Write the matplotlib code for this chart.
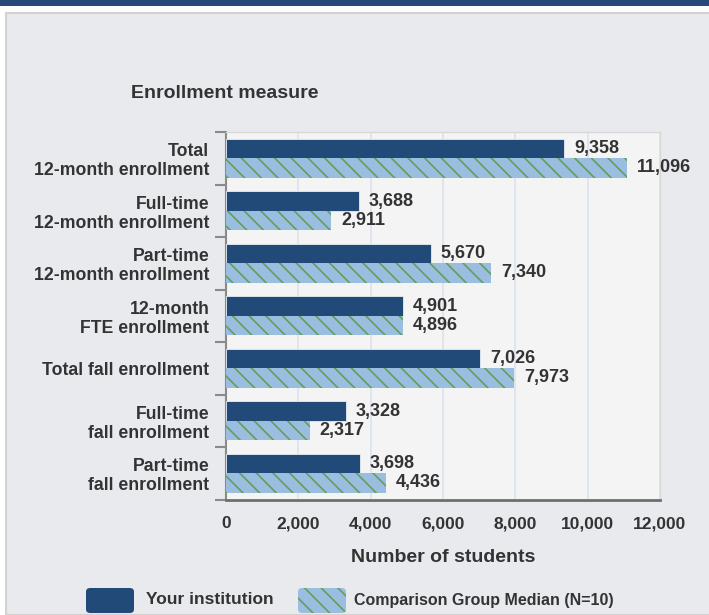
import matplotlib.pyplot as plt
import numpy as np
from matplotlib.patches import Rectangle, FancyBboxPatch

categories = [
    "Total\n12-month enrollment",
    "Full-time\n12-month enrollment",
    "Part-time\n12-month enrollment",
    "12-month\nFTE enrollment",
    "Total fall enrollment",
    "Full-time\nfall enrollment",
    "Part-time\nfall enrollment",
]
institution = [9358, 3688, 5670, 4901, 7026, 3328, 3698]
comparison = [11096, 2911, 7340, 4896, 7973, 2317, 4436]
x_ticks = [0, 2000, 4000, 6000, 8000, 10000, 12000]

W, H = 709, 615
DARK = "#224a78"
LIGHT = "#9abde0"
HATCH = "#62a058"
TXT = "#333333"

plt.rcParams["font.family"] = ["Liberation Sans", "DejaVu Sans"]
plt.rcParams["hatch.linewidth"] = 1.2


def fx(px):
    return px / W


def fy(py):
    return 1 - py / H


fig = plt.figure(figsize=(W / 100, H / 100), dpi=100)
fig.patch.set_facecolor("white")

# page chrome: top band and grey panel (behind the axes)
fig.add_artist(Rectangle((0, fy(6)), 1, 6 / H, transform=fig.transFigure,
                         facecolor="#26497a", edgecolor="none", zorder=-2))
fig.add_artist(Rectangle((fx(6), 0), 1, fy(13), transform=fig.transFigure,
                         facecolor="#e9eaee", edgecolor="#d2d2d2",
                         linewidth=1.5, zorder=-2))

ax = fig.add_axes([fx(226), fy(499.5), fx(660) - fx(226), fy(132) - fy(499.5)])
ax.set_zorder(1)
ax.set_facecolor("#f4f4f4")

y = np.arange(len(categories))
h = 0.37
b1 = ax.barh(y - h / 2, institution, height=h, color=DARK,
             edgecolor="#e8edf3", linewidth=0.6, zorder=3)
b2 = ax.barh(y + h / 2, comparison, height=h, color=LIGHT,
             edgecolor=HATCH, linewidth=0, hatch="\\\\", zorder=3)

for bars in (b1, b2):
    for rect in bars:
        v = rect.get_width()
        ax.annotate("{:,}".format(int(v)),
                    (v, rect.get_y() + rect.get_height() / 2),
                    xytext=(7, 0), textcoords="offset points",
                    va="center", ha="left", fontsize=13,
                    fontweight="bold", color=TXT, zorder=4)

ax.set_xlim(0, 12000)
ax.set_ylim(len(categories) - 0.5, -0.5)
ax.set_xticks(x_ticks)
ax.set_xticklabels(["{:,}".format(t) for t in x_ticks], fontsize=12.5,
                   fontweight="bold", color=TXT)
ax.tick_params(axis="x", length=0, pad=12)
ax.xaxis.grid(True, color="#dbe2ec", linewidth=1.2, zorder=0)
ax.set_axisbelow(True)

ax.set_yticks(np.arange(-0.5, len(categories), 1))
ax.set_yticklabels([])
ax.set_yticks(y, minor=True)
ax.set_yticklabels(categories, minor=True, fontsize=12.7, fontweight="bold",
                   color=TXT, ha="right", linespacing=1.15)
ax.tick_params(axis="y", which="major", length=8, width=1.5, color="#8a8a8a")
ax.tick_params(axis="y", which="minor", length=0, pad=12)

for s in ("top", "right"):
    ax.spines[s].set_color("#d8d8d8")
    ax.spines[s].set_linewidth(1)
ax.spines["left"].set_color("#8a8a8a")
ax.spines["left"].set_linewidth(1.5)
ax.spines["bottom"].set_color("#6e6e6e")
ax.spines["bottom"].set_linewidth(2)

ax.set_xlabel("Number of students", fontsize=14, fontweight="bold",
              color=TXT, labelpad=13)
fig.text(fx(131), fy(93), "Enrollment measure", fontsize=14,
         fontweight="bold", color=TXT, ha="left", va="center")

# legend
fig.add_artist(FancyBboxPatch((fx(86), fy(613)), fx(48), 25 / H,
                              boxstyle="round,pad=0,rounding_size=0.006",
                              transform=fig.transFigure, facecolor=DARK,
                              edgecolor="none"))
fig.text(fx(146), fy(600), "Your institution", fontsize=12.5,
         fontweight="bold", color=TXT, ha="left", va="center")
fig.add_artist(FancyBboxPatch((fx(298), fy(613)), fx(48), 25 / H,
                              boxstyle="round,pad=0,rounding_size=0.006",
                              transform=fig.transFigure, facecolor=LIGHT,
                              edgecolor=HATCH, linewidth=0, hatch="\\\\"))
fig.text(fx(354), fy(600), "Comparison Group Median (N=10)", fontsize=11.5,
         fontweight="bold", color=TXT, ha="left", va="center")

fig.savefig("out.png", dpi=100, facecolor=fig.get_facecolor())
